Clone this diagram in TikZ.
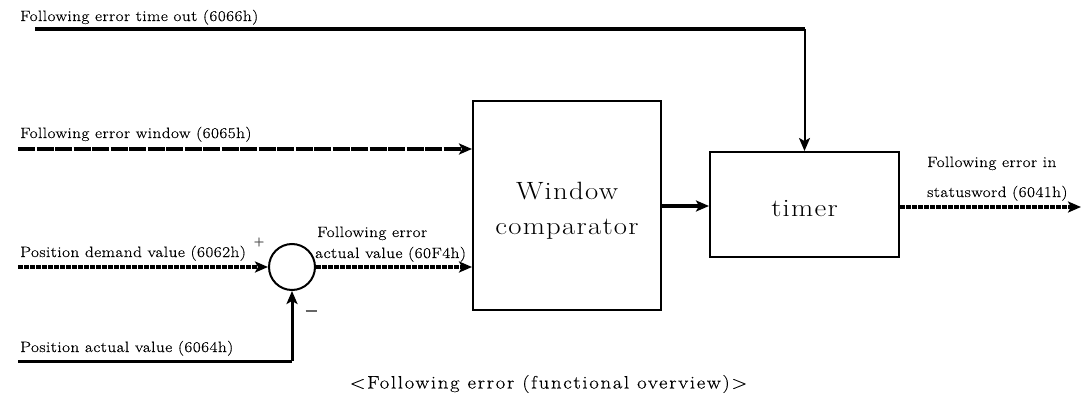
\documentclass[tikz,border=0pt]{standalone}
\usepackage{fontspec}
\setmainfont{Latin Modern Roman}
\usetikzlibrary{arrows.meta}
\newcommand{\lblfont}{\fontsize{15}{17}\selectfont\addfontfeatures{FakeStretch=1.15,LetterSpace=3,FakeBold=0.4}}
\newcommand{\boxfont}{\fontsize{25}{35}\selectfont\addfontfeatures{FakeStretch=1.15,LetterSpace=5}}
\newcommand{\capfont}{\fontsize{18}{20}\selectfont\addfontfeatures{FakeStretch=1.15,LetterSpace=9.5,FakeBold=0.3}}
\newcommand{\signfont}{\fontsize{14}{15}\selectfont\addfontfeatures{FakeBold=0.8}}
\begin{document}
\begin{tikzpicture}[x=1pt,y=-1pt,
  lbl/.style={inner sep=0pt,anchor=base west,font=\lblfont},
  blockbox/.style={draw,line width=2pt,inner sep=0pt},
  blocktext/.style={inner sep=0pt,align=center,font=\boxfont},
  sumnode/.style={draw,circle,line width=2pt,minimum size=46pt,inner sep=0pt},
  sign/.style={font=\signfont,text=black!60,inner sep=0pt},
  tip/.style={-{Stealth[length=13pt,width=11pt,inset=3pt]}},
  bigdash/.style={line width=4pt,dash pattern=on 17pt off 1.5pt},
  finedash/.style={line width=4pt,dash pattern=on 5pt off 1pt}]
\useasboundingbox (0,0) rectangle (1081,396);

% blocks
\node[blockbox,minimum width=188pt,minimum height=209pt] (comp) at (567,205.5) {};
\node[blocktext] (compt) at ([yshift=-5pt]comp.center) {Window\\comparator};
\node[blockbox,minimum width=189pt,minimum height=105pt] (timer) at (804.5,204.5) {};
\node[blocktext] (timert) at ([yshift=-4pt]timer.center) {timer};
\node[sumnode] (sum) at (292,267) {};

% signal ends
\coordinate (toutS) at (35,29);
\coordinate (toutC) at (804.5,29);
\coordinate (winS) at (18,149);
\coordinate (demS) at (18,267);
\coordinate (actS) at (18,361);
\coordinate (actC) at (292,361);
\coordinate (outE) at (1081,207);

% labels
\node[lbl] (ltout) at (20,21) {Following error time out (6066h)};
\node[lbl] (lwin) at (20,138) {Following error window (6065h)};
\node[lbl] (ldem) at (20,257) {Position demand value (6062h)};
\node[lbl] (lact) at (20,352) {Position actual value (6064h)};
\node[lbl] (lfe1) at (317,237) {Following error};
\node[lbl] (lfe2) at (315,258) {actual value (60F4h)};
\node[lbl] (lst1) at (927,167) {Following error in};
\node[lbl] (lst2) at (927,197) {statusword (6041h)};
\node[sign] (plus) at (259,242) {+};
\node[sign] (minus) at (311,311) {\color{black!60}\rule{11pt}{1.3pt}};
\node[font=\capfont,inner sep=0pt] (cap) at (548.5,384) {<Following error (functional overview)>};

% connectors
\draw[line width=3.5pt] (toutS) -- (toutC);
\draw[line width=2pt,tip] (toutC) -- (timer.north);
\draw[bigdash,tip] (winS) -- (winS -| comp.west);
\draw[finedash,tip] (demS) -- (sum.west);
\draw[line width=3pt] (actS) -- (actC);
\draw[line width=3pt,tip] (actC) -- (sum.south);
\draw[finedash,tip] (sum.east) -- (sum.east -| comp.west);
\draw[line width=4pt,tip] (comp.east |- 0,206) -- (timer.west |- 0,206);
\draw[finedash,tip] (timer.east |- outE) -- (outE);
\end{tikzpicture}
\end{document}
